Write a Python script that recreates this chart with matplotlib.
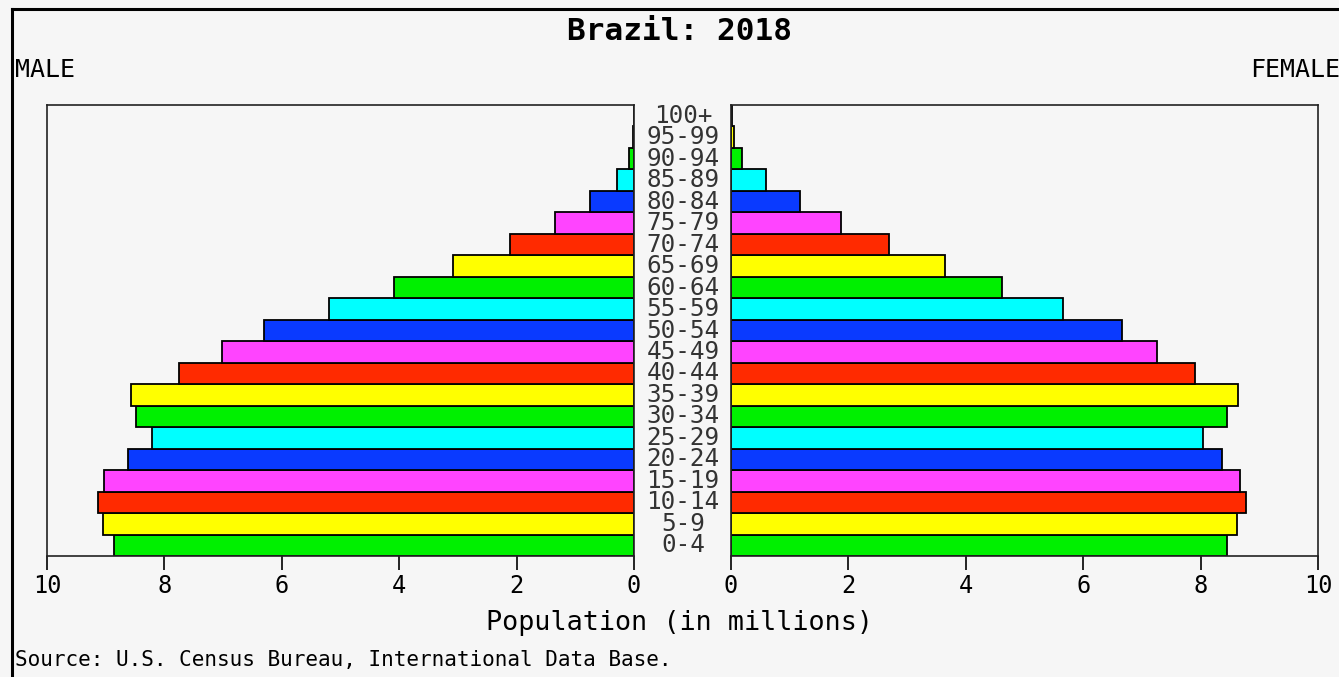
"""
Population pyramid for Brazil, 2018 (U.S. Census Bureau IDB style).
"""

import matplotlib
matplotlib.use('Agg')
import matplotlib.pyplot as plt
from matplotlib.lines import Line2D

# 1 Data (millions)
age_groups = ['0-4', '5-9', '10-14', '15-19', '20-24', '25-29', '30-34', '35-39',
              '40-44', '45-49', '50-54', '55-59', '60-64', '65-69', '70-74', '75-79',
              '80-84', '85-89', '90-94', '95-99', '100+']
male = [8.86, 9.05, 9.13, 9.03, 8.62, 8.21, 8.48, 8.57, 7.75, 7.02, 6.30,
        5.20, 4.09, 3.08, 2.11, 1.35, 0.75, 0.29, 0.085, 0.025, 0.004]
female = [8.45, 8.62, 8.77, 8.67, 8.36, 8.04, 8.45, 8.64, 7.90, 7.26, 6.66,
          5.66, 4.62, 3.65, 2.69, 1.87, 1.18, 0.60, 0.19, 0.05, 0.01]
ticks = [0, 2, 4, 6, 8, 10]

# 2 Styling
palette = ['#00f000', '#ffff00', '#ff2a00', '#ff44ff', '#0a3aff', '#00ffff']
bar_colors = [palette[i % len(palette)] for i in range(len(age_groups))]
bg = '#f6f6f6'
mono = 'DejaVu Sans Mono'
W, H = 1339, 677

fig = plt.figure(figsize=(W / 100, H / 100), dpi=100)
fig.patch.set_facecolor(bg)


def fx(px):
    return px / W


def fy(py):
    return 1 - py / H


ax_top, ax_bot = 105, 556
ax_m = fig.add_axes([fx(47), fy(ax_bot), fx(634 - 47), fy(ax_top) - fy(ax_bot)])
ax_f = fig.add_axes([fx(731), fy(ax_bot), fx(1318 - 731), fy(ax_top) - fy(ax_bot)])

ypos = list(range(len(age_groups)))

for ax, vals in ((ax_m, male), (ax_f, female)):
    ax.set_facecolor(bg)
    ax.barh(ypos, vals, height=1.0, color=bar_colors, edgecolor='black', linewidth=1.3)
    ax.set_xlim(0, 10)
    ax.set_ylim(-0.5, len(age_groups) - 0.5)
    ax.set_yticks([])
    ax.set_xticks(ticks)
    ax.set_xticklabels([str(t) for t in ticks], family=mono, fontsize=17, color='#222222')
    ax.tick_params(axis='x', direction='out', length=10, width=1.2, pad=3, colors='black')
    for s in ax.spines.values():
        s.set_linewidth(1.2)
        s.set_color('#222222')

ax_m.invert_xaxis()

# 3 Age labels in the gap
for i, lab in enumerate(age_groups):
    y = fy(ax_bot) + (i + 0.5) / len(age_groups) * (fy(ax_top) - fy(ax_bot))
    fig.text(fx(683), y, lab, ha='center', va='center', family=mono, fontsize=17.5,
             color='#333333')

# 4 Text
fig.text(fx(680), fy(32), 'Brazil: 2018', ha='center', va='center', family=mono,
         fontsize=22.4, fontweight='bold')
fig.text(fx(15), fy(70), 'MALE', ha='left', va='center', family=mono, fontsize=18)
fig.text(fx(1250), fy(70), 'FEMALE', ha='left', va='center', family=mono, fontsize=18)
fig.text(fx(680), fy(623), 'Population (in millions)', ha='center', va='center',
         family=mono, fontsize=19.3)
fig.text(fx(15), fy(660), 'Source: U.S. Census Bureau, International Data Base.',
         ha='left', va='center', family=mono, fontsize=15.1)

# 5 Outer frame (left and top only visible)
fig.add_artist(Line2D([fx(12), fx(12)], [fy(9), 0], color='black', linewidth=2.2))
fig.add_artist(Line2D([fx(12), 1], [fy(9), fy(9)], color='black', linewidth=2.2))

fig.savefig('out.png', dpi=100, facecolor=bg)
